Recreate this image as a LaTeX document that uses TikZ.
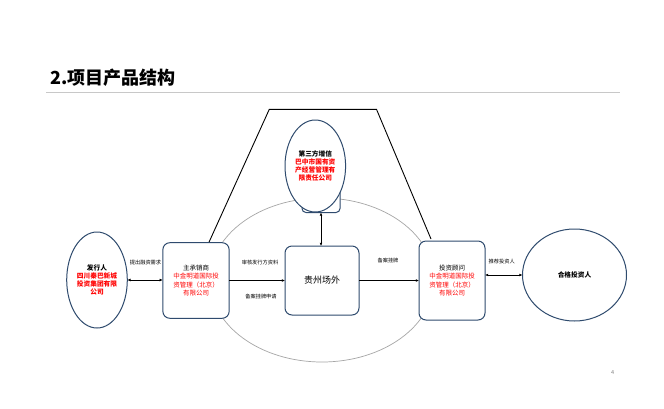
\documentclass[tikz,border=0pt]{standalone}
\usepackage{fontspec}
\setmainfont{Noto Sans CJK SC}
\usetikzlibrary{shapes.geometric,arrows.meta}
\definecolor{boxblue}{HTML}{2F4B6E}
\definecolor{ringgray}{HTML}{A6A6A6}
\definecolor{rulegray}{HTML}{C8C8C8}
\definecolor{hlred}{HTML}{FF0000}
\begin{document}
\begin{tikzpicture}[x=1pt,y=-1pt,
  every node/.style={inner sep=0pt, outer sep=0pt, align=center},
  roundbox/.style={draw=boxblue, line width=1pt, fill=white, rounded corners=7pt, font=\fontsize{6.5}{8.3}\selectfont},
  oval/.style={ellipse, draw=boxblue, line width=1pt, fill=white, font=\fontsize{6.7}{7.8}\selectfont\bfseries},
  lbl/.style={font=\fontsize{5.2}{6}\selectfont},
  link/.style={draw=black, line width=0.7pt},
  tip/.style={-{Latex[length=3.2pt,width=2.8pt]}},
  bitip/.style={{Latex[length=3.2pt,width=2.8pt]}-{Latex[length=3.2pt,width=2.8pt]}},
]
\useasboundingbox (0,0) rectangle (664,408);
\fill[white] (0,0) rectangle (664,408);

% title and rule
\node[anchor=west, font=\fontsize{18}{20}\selectfont\bfseries] (title) at (50.5,77.5) {2.项目产品结构};
\coordinate (ruleL) at (46,92.5);
\coordinate (ruleR) at (619.5,92.5);
\draw[rulegray, line width=0.8pt] (ruleL) -- (ruleR);

% big ring
\node[ellipse, draw=ringgray, line width=0.7pt, minimum width=224pt, minimum height=164pt] (ring) at (322,280) {};

% trapezoid
\coordinate (tl) at (269.3,109.3);
\coordinate (tr) at (376.5,109.3);
\coordinate (bl) at (208.5,243.3);
\coordinate (br) at (431,239);
\draw[line width=0.9pt] (bl) -- (tl) -- (tr) -- (br);

% guarantor
\node[draw=boxblue, line width=1pt, fill=white, rounded corners=4pt, minimum width=38pt, minimum height=28pt] (guarbase) at (321,198.5) {};
\node[oval, minimum width=60.6pt, minimum height=92pt] (guar) at (315.3,166)
  {第三方增信\\\textcolor{hlred}{巴中市国有资}\\\textcolor{hlred}{产经营管理有}\\\textcolor{hlred}{限责任公司}};

% boxes
\node[roundbox, minimum width=66.3pt, minimum height=75.6pt] (under) at (196,280.5)
  {主承销商\\\textcolor{hlred}{中金明道国际投}\\\textcolor{hlred}{资管理（北京）}\\\textcolor{hlred}{有限公司}};
\node[roundbox, minimum width=74pt, minimum height=69pt, font=\fontsize{9}{10}\selectfont] (otc) at (322,280.5) {贵州场外};
\node[roundbox, minimum width=66pt, minimum height=79pt] (adv) at (452,280.5)
  {投资顾问\\\textcolor{hlred}{中金明道国际投}\\\textcolor{hlred}{资管理（北京）}\\\textcolor{hlred}{有限公司}};

% ellipses
\node[oval, minimum width=60.6pt, minimum height=96pt] (issuer) at (97,280)
  {发行人\\\textcolor{hlred}{四川秦巴新城}\\\textcolor{hlred}{投资集团有限}\\\textcolor{hlred}{公司}};
\node[oval, minimum width=104pt, minimum height=92pt] (inv) at (574.5,275) {合格投资人};

% connectors
\draw[link, bitip] (issuer.east) -- (issuer.east -| under.west);
\draw[link, tip] (under) -- (otc);
\draw[link, tip] (otc) -- (adv);
\draw[link, bitip] (inv.west) -- (inv.west -| adv.east);
\draw[link, bitip] (guarbase.south) -- (guarbase.south |- otc.north);

% labels
\node[lbl] (l1) at (145.5,263) {提出融资需求};
\node[lbl] (l2) at (260,263) {审核发行方资料};
\node[lbl] (l3) at (261,297) {备案挂牌申请};
\node[lbl] (l4) at (388,261) {备案挂牌};
\node[lbl] (l5) at (501.7,261.5) {推荐投资人};

% page number
\node[font=\fontsize{5.5}{6}\selectfont, text=gray] (pg) at (612.7,372.7) {4};
\end{tikzpicture}
\end{document}
